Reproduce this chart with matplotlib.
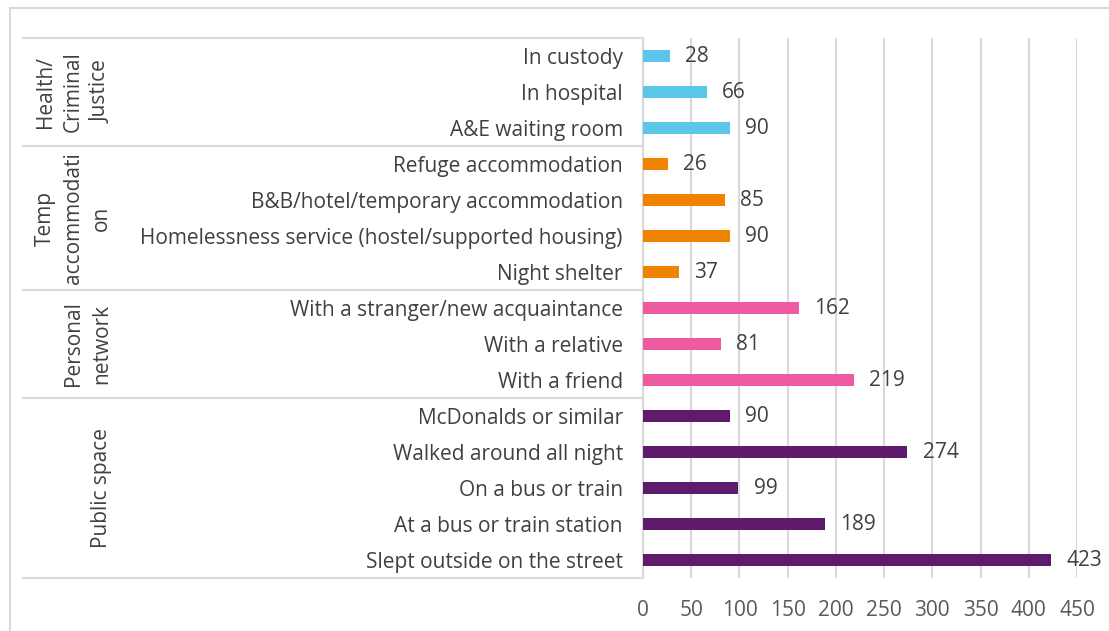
import matplotlib
matplotlib.use("Agg")
import matplotlib.pyplot as plt
from matplotlib.lines import Line2D
import matplotlib.transforms as mtransforms

plt.rcParams['font.family'] = ['Open Sans', 'DejaVu Sans']

categories = [
    "In custody", "In hospital", "A&E waiting room",
    "Refuge accommodation", "B&B/hotel/temporary accommodation",
    "Homelessness service (hostel/supported housing)", "Night shelter",
    "With a stranger/new acquaintance", "With a relative", "With a friend",
    "McDonalds or similar", "Walked around all night", "On a bus or train",
    "At a bus or train station", "Slept outside on the street",
]
values = [28, 66, 90, 26, 85, 90, 37, 162, 81, 219, 90, 274, 99, 189, 423]
groups = ["Health/\nCriminal\nJustice", "Temp\naccommodati\non", "Personal\nnetwork", "Public space"]
group_sizes = [3, 4, 3, 5]
group_colors = ["#5BC5EA", "#F08300", "#EE5BA0", "#5E1A6B"]
xticks = [0, 50, 100, 150, 200, 250, 300, 350, 400, 450]

W, H = 1109, 631
FS = 15
fig = plt.figure(figsize=(W / 100, H / 100), dpi=100)
ax = fig.add_axes([643 / W, 1 - 578 / H, (1077 - 643) / W, (578 - 38) / H])

colors = []
for c, n in zip(group_colors, group_sizes):
    colors += [c] * n

y = list(range(len(categories)))
ax.barh(y, values, height=0.36, color=colors, zorder=3)
ax.set_ylim(len(categories) - 0.5, -0.5)
ax.set_xlim(0, 450)
ax.set_xticks(xticks)
ax.set_xticklabels([str(t) for t in xticks], fontsize=FS, color="#595959")
ax.tick_params(axis='x', length=0, pad=15.5)
ax.set_yticks(y)
ax.set_yticklabels(categories, fontsize=FS, color="#404040")
ax.tick_params(axis='y', length=0, pad=14.5)
ax.xaxis.grid(True, color="#D9D9D9", linewidth=1.5, zorder=0)
for s in ["top", "right", "bottom"]:
    ax.spines[s].set_visible(False)
ax.spines["left"].set_color("#D9D9D9")
ax.spines["left"].set_linewidth(1.5)

for yi, v in zip(y, values):
    ax.annotate(str(v), (v, yi), xytext=(11, 0), textcoords="offset points",
                ha="left", va="center", fontsize=FS, color="#404040")

# table lines (figure pixel coordinates)
def fx(px):
    return px / W

def fy(py):
    return 1 - py / H

trans = mtransforms.blended_transform_factory(fig.transFigure, ax.transData)
bounds = [-0.5]
acc = -0.5
for n in group_sizes:
    acc += n
    bounds.append(acc)
for b in bounds:
    fig.add_artist(Line2D([fx(23), fx(643)], [b, b], transform=trans,
                          color="#D9D9D9", linewidth=1.5))
start = -0.5
for g, n in zip(groups, group_sizes):
    center = start + n / 2
    fig.text(fx(112), center, g, transform=trans, rotation=90, ha="right",
             va="center", multialignment="center", fontsize=FS,
             color="#404040", linespacing=1.45)
    start += n

# chart outer frame
fig.add_artist(Line2D([fx(10), fx(10)], [fy(8), 0], color="#D9D9D9", linewidth=1.5))
fig.add_artist(Line2D([fx(10), 1], [fy(8), fy(8)], color="#D9D9D9", linewidth=1.5))

fig.savefig("out.png", dpi=100)
